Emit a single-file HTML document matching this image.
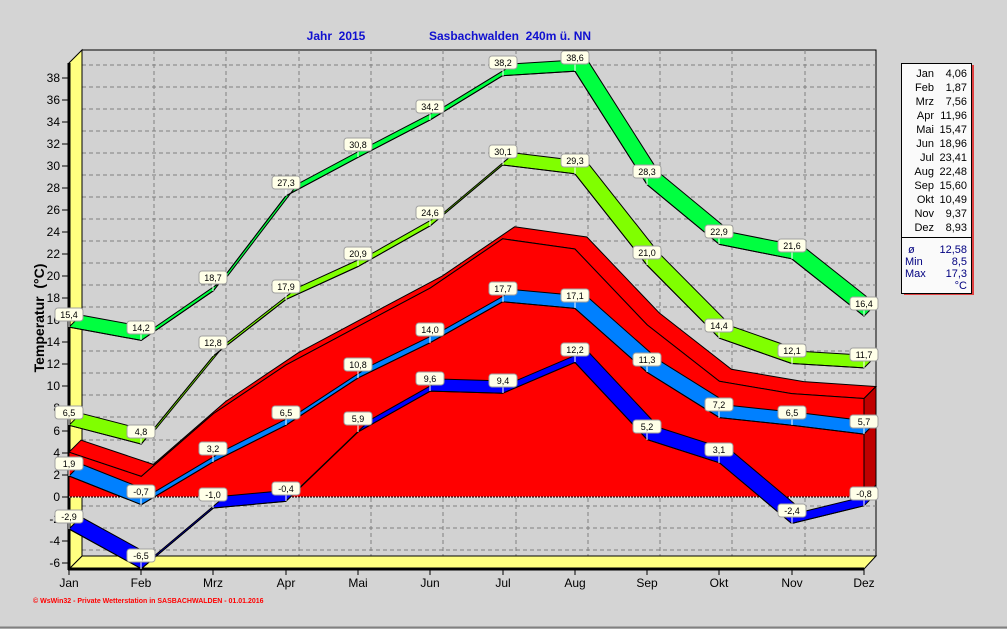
<!DOCTYPE html>
<html><head><meta charset="utf-8"><style>
html,body{margin:0;padding:0;background:#d4d4d4;}
svg{display:block;font-family:"Liberation Sans",sans-serif;}
</style></head><body>
<svg width="1007" height="629" viewBox="0 0 1007 629" xmlns="http://www.w3.org/2000/svg">
<rect x="0" y="0" width="1007" height="629" fill="#d4d4d4"/>
<line x1="0" y1="627.5" x2="1007" y2="627.5" stroke="#808080" stroke-width="2"/>
<!-- title -->
<text x="336" y="40" fill="#1010d0" font-size="12" font-weight="bold" text-anchor="middle">Jahr&#160; 2015</text>
<text x="510" y="40" fill="#1010d0" font-size="12" font-weight="bold" text-anchor="middle">Sasbachwalden&#160; 240m ü. NN</text>
<!-- back wall -->
<rect x="82" y="50" width="794" height="506" fill="#d2d2d2" stroke="#000" stroke-width="1"/>
<g stroke="#808080" stroke-dasharray="4,3" stroke-width="1">
<line x1="82" y1="65" x2="876" y2="65"/><line x1="82" y1="87" x2="876" y2="87"/><line x1="82" y1="109" x2="876" y2="109"/><line x1="82" y1="131" x2="876" y2="131"/><line x1="82" y1="153" x2="876" y2="153"/><line x1="82" y1="175" x2="876" y2="175"/><line x1="82" y1="197" x2="876" y2="197"/><line x1="82" y1="219" x2="876" y2="219"/><line x1="82" y1="241" x2="876" y2="241"/><line x1="82" y1="263" x2="876" y2="263"/><line x1="82" y1="285" x2="876" y2="285"/><line x1="82" y1="307" x2="876" y2="307"/><line x1="82" y1="329" x2="876" y2="329"/><line x1="82" y1="351" x2="876" y2="351"/><line x1="82" y1="373" x2="876" y2="373"/><line x1="82" y1="395" x2="876" y2="395"/><line x1="82" y1="417" x2="876" y2="417"/><line x1="82" y1="440" x2="876" y2="440"/><line x1="82" y1="462" x2="876" y2="462"/><line x1="82" y1="484" x2="876" y2="484"/><line x1="82" y1="506" x2="876" y2="506"/><line x1="82" y1="528" x2="876" y2="528"/><line x1="82" y1="550" x2="876" y2="550"/>
<line x1="154" y1="50" x2="154" y2="556"/><line x1="226" y1="50" x2="226" y2="556"/><line x1="299" y1="50" x2="299" y2="556"/><line x1="371" y1="50" x2="371" y2="556"/><line x1="443" y1="50" x2="443" y2="556"/><line x1="516" y1="50" x2="516" y2="556"/><line x1="588" y1="50" x2="588" y2="556"/><line x1="660" y1="50" x2="660" y2="556"/><line x1="732" y1="50" x2="732" y2="556"/><line x1="805" y1="50" x2="805" y2="556"/>
</g>
<!-- floor & left wall -->
<polygon points="69,569 82,556 876,556 864,569" fill="#ffff80" stroke="#000" stroke-width="1"/>
<polygon points="69,63 82,50 82,556 69,569" fill="#ffff80" stroke="#000" stroke-width="1"/>
<line x1="69" y1="63" x2="69" y2="570" stroke="#000" stroke-width="3"/>
<line x1="68" y1="569" x2="864" y2="569" stroke="#000" stroke-width="3"/>
<!-- y ticks -->
<g stroke="#000" stroke-width="1">
<line x1="62" y1="78" x2="69" y2="78"/><line x1="62" y1="100" x2="69" y2="100"/><line x1="62" y1="122" x2="69" y2="122"/><line x1="62" y1="144" x2="69" y2="144"/><line x1="62" y1="166" x2="69" y2="166"/><line x1="62" y1="188" x2="69" y2="188"/><line x1="62" y1="210" x2="69" y2="210"/><line x1="62" y1="232" x2="69" y2="232"/><line x1="62" y1="254" x2="69" y2="254"/><line x1="62" y1="276" x2="69" y2="276"/><line x1="62" y1="298" x2="69" y2="298"/><line x1="62" y1="320" x2="69" y2="320"/><line x1="62" y1="342" x2="69" y2="342"/><line x1="62" y1="364" x2="69" y2="364"/><line x1="62" y1="386" x2="69" y2="386"/><line x1="62" y1="408" x2="69" y2="408"/><line x1="62" y1="431" x2="69" y2="431"/><line x1="62" y1="453" x2="69" y2="453"/><line x1="62" y1="475" x2="69" y2="475"/><line x1="62" y1="497" x2="69" y2="497"/><line x1="62" y1="519" x2="69" y2="519"/><line x1="62" y1="541" x2="69" y2="541"/><line x1="62" y1="563" x2="69" y2="563"/>
<line x1="69" y1="569" x2="69" y2="575"/><line x1="141" y1="569" x2="141" y2="575"/><line x1="213" y1="569" x2="213" y2="575"/><line x1="286" y1="569" x2="286" y2="575"/><line x1="358" y1="569" x2="358" y2="575"/><line x1="430" y1="569" x2="430" y2="575"/><line x1="503" y1="569" x2="503" y2="575"/><line x1="575" y1="569" x2="575" y2="575"/><line x1="647" y1="569" x2="647" y2="575"/><line x1="719" y1="569" x2="719" y2="575"/><line x1="792" y1="569" x2="792" y2="575"/><line x1="864" y1="569" x2="864" y2="575"/>
</g>
<g font-size="12" text-anchor="end" fill="#000">
<text x="60" y="82">38</text><text x="60" y="104">36</text><text x="60" y="126">34</text><text x="60" y="148">32</text><text x="60" y="170">30</text><text x="60" y="192">28</text><text x="60" y="214">26</text><text x="60" y="236">24</text><text x="60" y="258">22</text><text x="60" y="280">20</text><text x="60" y="302">18</text><text x="60" y="324">16</text><text x="60" y="346">14</text><text x="60" y="368">12</text><text x="60" y="390">10</text><text x="60" y="412">8</text><text x="60" y="435">6</text><text x="60" y="457">4</text><text x="60" y="479">2</text><text x="60" y="501">0</text><text x="60" y="523">-2</text><text x="60" y="545">-4</text><text x="60" y="567">-6</text>
</g>
<text transform="translate(44,318) rotate(-90)" font-size="14" font-weight="bold" text-anchor="middle">Temperatur&#160; (°C)</text>
<g font-size="12" text-anchor="middle">
<text x="69" y="587">Jan</text><text x="141" y="587">Feb</text><text x="213" y="587">Mrz</text><text x="286" y="587">Apr</text><text x="358" y="587">Mai</text><text x="430" y="587">Jun</text><text x="503" y="587">Jul</text><text x="575" y="587">Aug</text><text x="647" y="587">Sep</text><text x="719" y="587">Okt</text><text x="792" y="587">Nov</text><text x="864" y="587">Dez</text>
</g>
<text x="33" y="603" font-size="7" font-weight="bold" fill="#ff0000">© WsWin32  -  Private Wetterstation in SASBACHWALDEN  -    01.01.2016</text>

<!-- max abs green -->
<polygon points="69,327.1 141.3,340.4 213.5,290.7 285.8,195.9 358.1,157.3 430.4,119.8 502.6,75.7 574.9,71.2 647.2,184.8 719.4,244.4 791.7,258.8 864,316.1 876,304.1 803.7,246.8 731.4,232.4 659.2,172.8 586.9,59.2 514.6,63.7 442.4,107.8 370.1,145.3 297.8,183.9 225.5,278.7 153.3,328.4 81,315.1" fill="#00ff40" stroke="#000" stroke-width="1" stroke-linejoin="round"/>
<polyline points="69,327.1 141.3,340.4 213.5,290.7 285.8,195.9 358.1,157.3 430.4,119.8 502.6,75.7 574.9,71.2 647.2,184.8 719.4,244.4 791.7,258.8 864,316.1" fill="none" stroke="#000"/>
<!-- mean max lime -->
<polygon points="69,425.3 141.3,444.1 213.5,355.8 285.8,299.6 358.1,266.5 430.4,225.7 502.6,165 574.9,173.8 647.2,265.4 719.4,338.2 791.7,363.5 864,367.9 876,355.9 803.7,351.5 731.4,326.2 659.2,253.4 586.9,161.8 514.6,153 442.4,213.7 370.1,254.5 297.8,287.6 225.5,343.8 153.3,432.1 81,413.3" fill="#80ff00" stroke="#000" stroke-width="1" stroke-linejoin="round"/>
<polyline points="69,425.3 141.3,444.1 213.5,355.8 285.8,299.6 358.1,266.5 430.4,225.7 502.6,165 574.9,173.8 647.2,265.4 719.4,338.2 791.7,363.5 864,367.9" fill="none" stroke="#000"/>
<!-- mean red area -->
<polygon points="69,452.2 141.3,476.4 213.5,413.6 285.8,365.1 358.1,326.4 430.4,287.9 502.6,238.8 574.9,249 647.2,324.9 719.4,381.3 791.7,393.6 864,398.5 876,386.5 803.7,381.6 731.4,369.3 659.2,312.9 586.9,237 514.6,226.8 442.4,275.9 370.1,314.4 297.8,353.1 225.5,401.6 153.3,464.4 81,440.2" fill="#ff0000" stroke="#000" stroke-width="1"/>
<polygon points="864,398.5 876,386.5 876,485 864,497" fill="#c00000" stroke="#000" stroke-width="1"/>
<polygon points="69,497 69,452.2 141.3,476.4 213.5,413.6 285.8,365.1 358.1,326.4 430.4,287.9 502.6,238.8 574.9,249 647.2,324.9 719.4,381.3 791.7,393.6 864,398.5 864,497" fill="#ff0000" stroke="#000" stroke-width="1"/>
<line x1="69" y1="497" x2="864" y2="497" stroke="#ffffff" stroke-width="1" stroke-dasharray="1,2"/>
<!-- mean min blue -->
<polygon points="69,476 141.3,504.7 213.5,461.7 285.8,425.3 358.1,377.9 430.4,342.6 502.6,301.8 574.9,308.4 647.2,372.4 719.4,417.6 791.7,425.3 864,434.1 876,422.1 803.7,413.3 731.4,405.6 659.2,360.4 586.9,296.4 514.6,289.8 442.4,330.6 370.1,365.9 297.8,413.3 225.5,449.7 153.3,492.7 81,464" fill="#0080ff" stroke="#000" stroke-width="1" stroke-linejoin="round"/>
<polyline points="69,476 141.3,504.7 213.5,461.7 285.8,425.3 358.1,377.9 430.4,342.6 502.6,301.8 574.9,308.4 647.2,372.4 719.4,417.6 791.7,425.3 864,434.1" fill="none" stroke="#000"/>
<!-- min abs blue -->
<polygon points="69,529 141.3,568.7 213.5,508 285.8,501.4 358.1,431.9 430.4,391.1 502.6,393.3 574.9,362.4 647.2,439.6 719.4,462.8 791.7,523.5 864,505.8 876,493.8 803.7,511.5 731.4,450.8 659.2,427.6 586.9,350.4 514.6,381.3 442.4,379.1 370.1,419.9 297.8,489.4 225.5,496 153.3,556.7 81,517" fill="#0000ff" stroke="#000" stroke-width="1" stroke-linejoin="round"/>
<polyline points="69,529 141.3,568.7 213.5,508 285.8,501.4 358.1,431.9 430.4,391.1 502.6,393.3 574.9,362.4 647.2,439.6 719.4,462.8 791.7,523.5 864,505.8" fill="none" stroke="#000"/>

<!-- labels -->
<g font-size="9" text-anchor="middle" fill="#000">
<g stroke="#fff" stroke-width="1">
<line x1="69" y1="321" x2="69" y2="327"/><line x1="141" y1="334" x2="141" y2="340"/><line x1="213" y1="284" x2="213" y2="291"/><line x1="286" y1="189" x2="286" y2="196"/><line x1="358" y1="151" x2="358" y2="157"/><line x1="430" y1="113" x2="430" y2="120"/><line x1="503" y1="69" x2="503" y2="76"/><line x1="575" y1="64" x2="575" y2="71"/><line x1="647" y1="178" x2="647" y2="185"/><line x1="719" y1="238" x2="719" y2="244"/><line x1="792" y1="252" x2="792" y2="259"/><line x1="864" y1="310" x2="864" y2="316"/>
<line x1="69" y1="419" x2="69" y2="425"/><line x1="141" y1="438" x2="141" y2="444"/><line x1="213" y1="349" x2="213" y2="356"/><line x1="286" y1="293" x2="286" y2="300"/><line x1="358" y1="260" x2="358" y2="266"/><line x1="430" y1="219" x2="430" y2="226"/><line x1="503" y1="158" x2="503" y2="165"/><line x1="575" y1="167" x2="575" y2="174"/><line x1="647" y1="259" x2="647" y2="265"/><line x1="719" y1="332" x2="719" y2="338"/><line x1="792" y1="357" x2="792" y2="364"/><line x1="864" y1="361" x2="864" y2="368"/>
<line x1="69" y1="470" x2="69" y2="476"/><line x1="141" y1="498" x2="141" y2="505"/><line x1="213" y1="455" x2="213" y2="462"/><line x1="286" y1="419" x2="286" y2="425"/><line x1="358" y1="371" x2="358" y2="378"/><line x1="430" y1="336" x2="430" y2="343"/><line x1="503" y1="295" x2="503" y2="302"/><line x1="575" y1="302" x2="575" y2="308"/><line x1="647" y1="366" x2="647" y2="372"/><line x1="719" y1="411" x2="719" y2="418"/><line x1="792" y1="419" x2="792" y2="425"/><line x1="864" y1="428" x2="864" y2="434"/>
<line x1="69" y1="523" x2="69" y2="529"/><line x1="141" y1="562" x2="141" y2="569"/><line x1="213" y1="501" x2="213" y2="508"/><line x1="286" y1="495" x2="286" y2="501"/><line x1="358" y1="425" x2="358" y2="432"/><line x1="430" y1="385" x2="430" y2="391"/><line x1="503" y1="387" x2="503" y2="393"/><line x1="575" y1="356" x2="575" y2="362"/><line x1="647" y1="433" x2="647" y2="440"/><line x1="719" y1="456" x2="719" y2="463"/><line x1="792" y1="517" x2="792" y2="524"/><line x1="864" y1="500" x2="864" y2="506"/>
</g>
<g fill="#ffffe8" stroke="#a0a0a0" stroke-width="1">
<rect x="55" y="308" width="28" height="13" rx="3"/><rect x="127" y="321" width="28" height="13" rx="3"/><rect x="199" y="271" width="28" height="13" rx="3"/><rect x="272" y="176" width="28" height="13" rx="3"/><rect x="344" y="138" width="28" height="13" rx="3"/><rect x="416" y="100" width="28" height="13" rx="3"/><rect x="489" y="56" width="28" height="13" rx="3"/><rect x="561" y="51" width="28" height="13" rx="3"/><rect x="633" y="165" width="28" height="13" rx="3"/><rect x="705" y="225" width="28" height="13" rx="3"/><rect x="778" y="239" width="28" height="13" rx="3"/><rect x="850" y="297" width="28" height="13" rx="3"/>
<rect x="55" y="406" width="28" height="13" rx="3"/><rect x="127" y="425" width="28" height="13" rx="3"/><rect x="199" y="336" width="28" height="13" rx="3"/><rect x="272" y="280" width="28" height="13" rx="3"/><rect x="344" y="247" width="28" height="13" rx="3"/><rect x="416" y="206" width="28" height="13" rx="3"/><rect x="489" y="145" width="28" height="13" rx="3"/><rect x="561" y="154" width="28" height="13" rx="3"/><rect x="633" y="246" width="28" height="13" rx="3"/><rect x="705" y="319" width="28" height="13" rx="3"/><rect x="778" y="344" width="28" height="13" rx="3"/><rect x="850" y="348" width="28" height="13" rx="3"/>
<rect x="55" y="457" width="28" height="13" rx="3"/><rect x="127" y="485" width="28" height="13" rx="3"/><rect x="199" y="442" width="28" height="13" rx="3"/><rect x="272" y="406" width="28" height="13" rx="3"/><rect x="344" y="358" width="28" height="13" rx="3"/><rect x="416" y="323" width="28" height="13" rx="3"/><rect x="489" y="282" width="28" height="13" rx="3"/><rect x="561" y="289" width="28" height="13" rx="3"/><rect x="633" y="353" width="28" height="13" rx="3"/><rect x="705" y="398" width="28" height="13" rx="3"/><rect x="778" y="406" width="28" height="13" rx="3"/><rect x="850" y="415" width="28" height="13" rx="3"/>
<rect x="55" y="510" width="28" height="13" rx="3"/><rect x="127" y="549" width="28" height="13" rx="3"/><rect x="199" y="488" width="28" height="13" rx="3"/><rect x="272" y="482" width="28" height="13" rx="3"/><rect x="344" y="412" width="28" height="13" rx="3"/><rect x="416" y="372" width="28" height="13" rx="3"/><rect x="489" y="374" width="28" height="13" rx="3"/><rect x="561" y="343" width="28" height="13" rx="3"/><rect x="633" y="420" width="28" height="13" rx="3"/><rect x="705" y="443" width="28" height="13" rx="3"/><rect x="778" y="504" width="28" height="13" rx="3"/><rect x="850" y="487" width="28" height="13" rx="3"/>
</g>
<text x="69" y="318">15,4</text><text x="141" y="331">14,2</text><text x="213" y="281">18,7</text><text x="286" y="186">27,3</text><text x="358" y="148">30,8</text><text x="430" y="110">34,2</text><text x="503" y="66">38,2</text><text x="575" y="61">38,6</text><text x="647" y="175">28,3</text><text x="719" y="235">22,9</text><text x="792" y="249">21,6</text><text x="864" y="307">16,4</text>
<text x="69" y="416">6,5</text><text x="141" y="435">4,8</text><text x="213" y="346">12,8</text><text x="286" y="290">17,9</text><text x="358" y="257">20,9</text><text x="430" y="216">24,6</text><text x="503" y="155">30,1</text><text x="575" y="164">29,3</text><text x="647" y="256">21,0</text><text x="719" y="329">14,4</text><text x="792" y="354">12,1</text><text x="864" y="358">11,7</text>
<text x="69" y="467">1,9</text><text x="141" y="495">-0,7</text><text x="213" y="452">3,2</text><text x="286" y="416">6,5</text><text x="358" y="368">10,8</text><text x="430" y="333">14,0</text><text x="503" y="292">17,7</text><text x="575" y="299">17,1</text><text x="647" y="363">11,3</text><text x="719" y="408">7,2</text><text x="792" y="416">6,5</text><text x="864" y="425">5,7</text>
<text x="69" y="520">-2,9</text><text x="141" y="559">-6,5</text><text x="213" y="498">-1,0</text><text x="286" y="492">-0,4</text><text x="358" y="422">5,9</text><text x="430" y="382">9,6</text><text x="503" y="384">9,4</text><text x="575" y="353">12,2</text><text x="647" y="430">5,2</text><text x="719" y="453">3,1</text><text x="792" y="514">-2,4</text><text x="864" y="497">-0,8</text>
</g>

<!-- legend -->
<rect x="904" y="65" width="70" height="230" fill="#e04040"/>
<rect x="901.5" y="63.5" width="70" height="230" fill="#fafafa" stroke="#000" stroke-width="1"/>
<line x1="902" y1="237.5" x2="971" y2="237.5" stroke="#000"/>
<g font-size="11" fill="#000" text-anchor="end">
<text x="934" y="77">Jan</text><text x="967" y="77">4,06</text>
<text x="934" y="91">Feb</text><text x="967" y="91">1,87</text>
<text x="934" y="105">Mrz</text><text x="967" y="105">7,56</text>
<text x="934" y="119">Apr</text><text x="967" y="119">11,96</text>
<text x="934" y="133">Mai</text><text x="967" y="133">15,47</text>
<text x="934" y="147">Jun</text><text x="967" y="147">18,96</text>
<text x="934" y="161">Jul</text><text x="967" y="161">23,41</text>
<text x="934" y="175">Aug</text><text x="967" y="175">22,48</text>
<text x="934" y="189">Sep</text><text x="967" y="189">15,60</text>
<text x="934" y="203">Okt</text><text x="967" y="203">10,49</text>
<text x="934" y="217">Nov</text><text x="967" y="217">9,37</text>
<text x="934" y="231">Dez</text><text x="967" y="231">8,93</text>
</g>
<g font-size="11" fill="#000080">
<text x="908" y="253">ø</text><text x="967" y="253" text-anchor="end">12,58</text>
<text x="905" y="265">Min</text><text x="967" y="265" text-anchor="end">8,5</text>
<text x="905" y="277">Max</text><text x="967" y="277" text-anchor="end">17,3</text>
<text x="967" y="289" text-anchor="end">°C</text>
</g>
</svg>
</body></html>
